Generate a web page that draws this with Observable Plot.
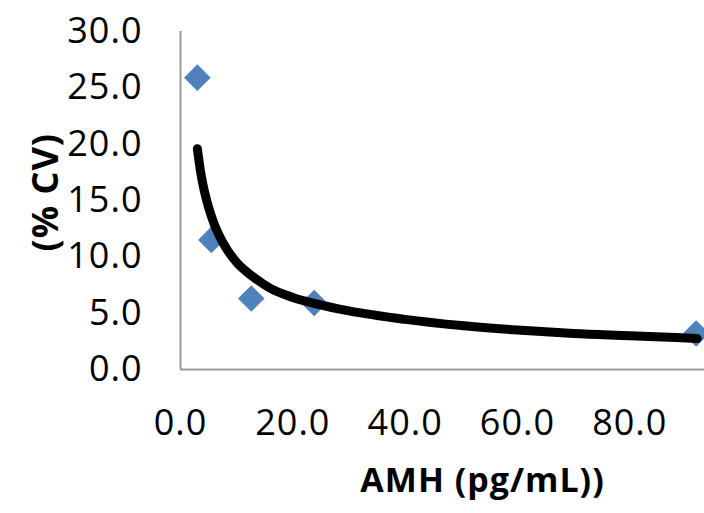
<!DOCTYPE html>
<html>
<head>
<meta charset="utf-8">
<script src="https://cdn.jsdelivr.net/npm/d3@7"></script>
<script src="https://cdn.jsdelivr.net/npm/@observablehq/plot@0.6"></script>
<style>
  html, body { margin: 0; padding: 0; background: #fff; overflow: hidden; }
  #chart svg text { letter-spacing: 1px; }
</style>
</head>
<body>
<div id="chart"></div>
<script>
// Measured points
const amh = [3.0, 5.5, 12.6, 23.8, 91.8];
const cv = [25.9, 11.5, 6.3, 5.9, 3.2];

// Trend line
const trendX = [3.0, 3.5, 4, 5, 6, 7.5, 10, 13, 16, 20, 24, 30, 40, 50, 60, 70, 80, 92];
const trendY = [19.6, 17.8, 16.4, 14.4, 12.9, 11.3, 9.5, 8.2, 7.2, 6.4, 5.85, 5.2, 4.45, 3.9, 3.5, 3.2, 3.0, 2.75];

const xTicks = [0, 20, 40, 60, 80];
const yTicks = [0, 5, 10, 15, 20, 25, 30];
const xLabel = "AMH (pg/mL))";
const yLabel = "(% CV)";

const points = amh.map((x, i) => ({x, y: cv[i]}));
const trend = trendX.map((x, i) => ({x, y: trendY[i]}));
const fmt = d3.format(".1f");

const chart = Plot.plot({
  width: 704,
  height: 513,
  marginLeft: 180,
  marginRight: 0,
  marginTop: 31,
  marginBottom: 144,
  style: {fontFamily: "'Open Sans', sans-serif", fontSize: "36px", color: "#000", background: "#fff"},
  x: {domain: [0, 93.3]},
  y: {domain: [0, 30]},
  marks: [
    Plot.ruleY([0], {stroke: "#9a9a9a", strokeWidth: 2}),
    Plot.ruleX([0], {stroke: "#9a9a9a", strokeWidth: 2}),
    Plot.axisY({ticks: yTicks, tickSize: 0, tickPadding: 38, tickFormat: fmt, label: null, fill: "#000"}),
    Plot.axisX({ticks: xTicks, tickSize: 0, tickPadding: 40, tickFormat: fmt, label: null, fill: "#000"}),
    Plot.dot(points, {x: "x", y: "y", symbol: "diamond2", r: 12, fill: "#4F81BD", stroke: "none"}),
    Plot.line(trend, {x: "x", y: "y", stroke: "#000", strokeWidth: 9, strokeLinecap: "round", strokeLinejoin: "round", curve: "monotone-x"}),
    Plot.text([xLabel], {frameAnchor: "bottom", dx: 40, dy: 122, fontWeight: "bold", fontSize: 34, fill: "#000"}),
    Plot.text([yLabel], {frameAnchor: "left", rotate: -90, dx: -134, dy: 51, fontWeight: "bold", fontSize: 36, fill: "#000"})
  ]
});
document.getElementById("chart").appendChild(chart);
</script>
</body>
</html>
